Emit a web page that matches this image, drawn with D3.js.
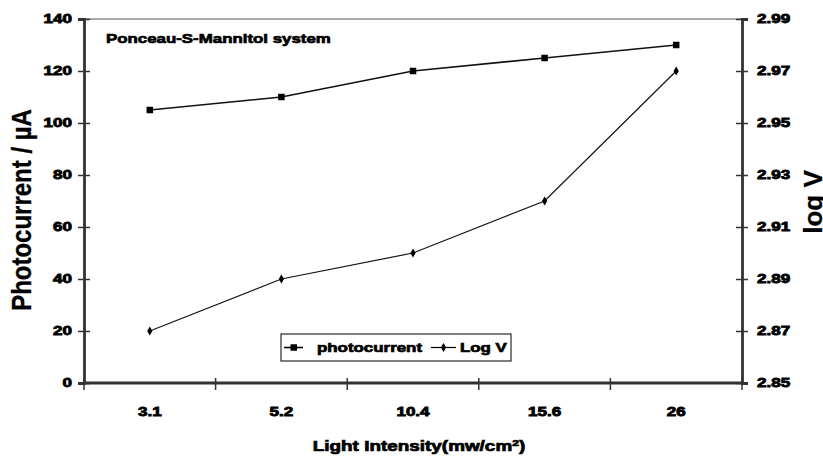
<!DOCTYPE html>
<html><head><meta charset="utf-8">
<script src="https://cdn.jsdelivr.net/npm/d3@7/dist/d3.min.js"></script>
<style>
body{margin:0;background:#fff;}
svg{display:block;}
text{font-family:"Liberation Sans",Arial,sans-serif;font-weight:bold;fill:#000;}
</style></head>
<body><svg id="c" width="823" height="456"></svg>
<script>
const categories = ["3.1","5.2","10.4","15.6","26"];
const photocurrent = [105,110,120,125,130];
const logV = [2.87,2.89,2.90,2.92,2.97];
const leftTicks = [0,20,40,60,80,100,120,140];
const rightTicks = [2.85,2.87,2.89,2.91,2.93,2.95,2.97,2.99];

const svg = d3.select("#c");
const L=84, R=742, T=19, B=383;
const x = d3.scaleBand().domain(categories).range([L,R]);
const yL = d3.scaleLinear().domain([0,140]).range([B,T]);
const yR = d3.scaleLinear().domain([2.85,2.99]).range([B,T]);

function heavy(sel, size, sx, sw){
  sel.attr("font-size",size).style("font-family","'Liberation Sans',Arial,sans-serif")
     .style("font-weight","bold").attr("stroke","#000").attr("stroke-width",sw).attr("fill","#000");
  sel.each(function(){
    const t=d3.select(this); const x0=+t.attr("x")||0;
    t.attr("transform",`translate(${x0},0) scale(${sx},1) translate(${-x0},0)`);
  });
}

// top frame line
svg.append("line").attr("x1",L).attr("x2",R).attr("y1",T).attr("y2",T)
  .attr("stroke","#555").attr("stroke-width",1);

// left axis
const gL = svg.append("g").attr("transform",`translate(${L},0)`)
  .call(d3.axisLeft(yL).tickValues(leftTicks).tickSize(6).tickPadding(6).tickFormat(d3.format("d")));
gL.selectAll(".tick line").clone().attr("x2",6);
// right axis
const gR = svg.append("g").attr("transform",`translate(${R},0)`)
  .call(d3.axisRight(yR).tickValues(rightTicks).tickSize(6).tickPadding(9).tickFormat(d3.format(".2f")));
gR.selectAll(".tick line").clone().attr("x2",-6);
// bottom axis: ticks at band boundaries
const gB = svg.append("g").attr("transform",`translate(0,${B})`)
  .call(d3.axisBottom(x).tickSize(0).tickPadding(24));
const bounds = categories.map(c=>x(c)).concat([R]);
gB.selectAll(".bt").data(bounds).enter().append("line")
  .attr("x1",d=>d).attr("x2",d=>d).attr("y1",-5).attr("y2",7)
  .attr("stroke","#333").attr("stroke-width",1.5);

[gL,gR,gB].forEach(g=>{
  g.select(".domain").attr("stroke","#333").attr("stroke-width",2.8);
  g.selectAll(".tick line").attr("stroke","#333").attr("stroke-width",1.5);
  heavy(g.selectAll(".tick text"), 12, 1.42, 0.8);
});
gB.select(".domain").attr("d",`M${L},0H${R}`);

const cx = c=>x(c)+x.bandwidth()/2;

// photocurrent line
const lineL = d3.line().x((d,i)=>cx(categories[i])).y(d=>yL(d));
svg.append("path").datum(photocurrent).attr("d",lineL).attr("fill","none")
  .attr("stroke","#111").attr("stroke-width",1.6);
svg.selectAll(".sq").data(photocurrent).enter().append("rect")
  .attr("x",(d,i)=>cx(categories[i])-3.25).attr("y",d=>yL(d)-3.25)
  .attr("width",6.5).attr("height",6.5).attr("fill","#000");

// log V line
const lineR = d3.line().x((d,i)=>cx(categories[i])).y(d=>yR(d));
svg.append("path").datum(logV).attr("d",lineR).attr("fill","none")
  .attr("stroke","#111").attr("stroke-width",1.2);
const dia = d3.symbol().type(d3.symbolDiamond).size(24);
svg.selectAll(".dm").data(logV).enter().append("path")
  .attr("d",dia).attr("transform",(d,i)=>`translate(${cx(categories[i])},${yR(d)})`)
  .attr("fill","#000");

// chart label
heavy(svg.append("text").attr("x",106).attr("y",43).text("Ponceau-S-Mannitol system"), 13.5, 1.25, 0.7);

// legend
const lg = svg.append("g");
lg.append("rect").attr("x",281).attr("y",334).attr("width",230).attr("height",27)
  .attr("fill","#fff").attr("stroke","#000").attr("stroke-width",1);
lg.append("line").attr("x1",284).attr("x2",303).attr("y1",347.5).attr("y2",347.5).attr("stroke","#000").attr("stroke-width",1.6);
lg.append("rect").attr("x",290.5).attr("y",344.25).attr("width",6.5).attr("height",6.5).attr("fill","#000");
heavy(lg.append("text").attr("x",317).attr("y",352).text("photocurrent"), 13, 1.3, 0.7);
lg.append("line").attr("x1",431).attr("x2",456).attr("y1",347.5).attr("y2",347.5).attr("stroke","#000").attr("stroke-width",1.2);
lg.append("path").attr("d",dia).attr("transform","translate(443.5,347.5)").attr("fill","#000");
heavy(lg.append("text").attr("x",460).attr("y",352).text("Log V"), 13, 1.3, 0.7);

// axis titles
svg.append("text").attr("transform",`translate(31,210) scale(1.17,1) rotate(-90)`)
  .attr("text-anchor","middle").attr("font-size",24).attr("stroke","#000").attr("stroke-width",0.3)
  .text("Photocurrent / \u00b5A");
svg.append("text").attr("transform",`translate(822,202) rotate(-90)`)
  .attr("text-anchor","middle").attr("font-size",26).attr("stroke","#000").attr("stroke-width",0.3)
  .text("log V");
const xt = svg.append("text").attr("x",419).attr("y",451).attr("text-anchor","middle");
xt.append("tspan").text("Light Intensity(mw/cm");
xt.append("tspan").attr("dy",-5).attr("font-size",9).text("2");
xt.append("tspan").attr("dy",5).text(")");
heavy(xt, 14, 1.35, 0.7);
</script></body></html>
